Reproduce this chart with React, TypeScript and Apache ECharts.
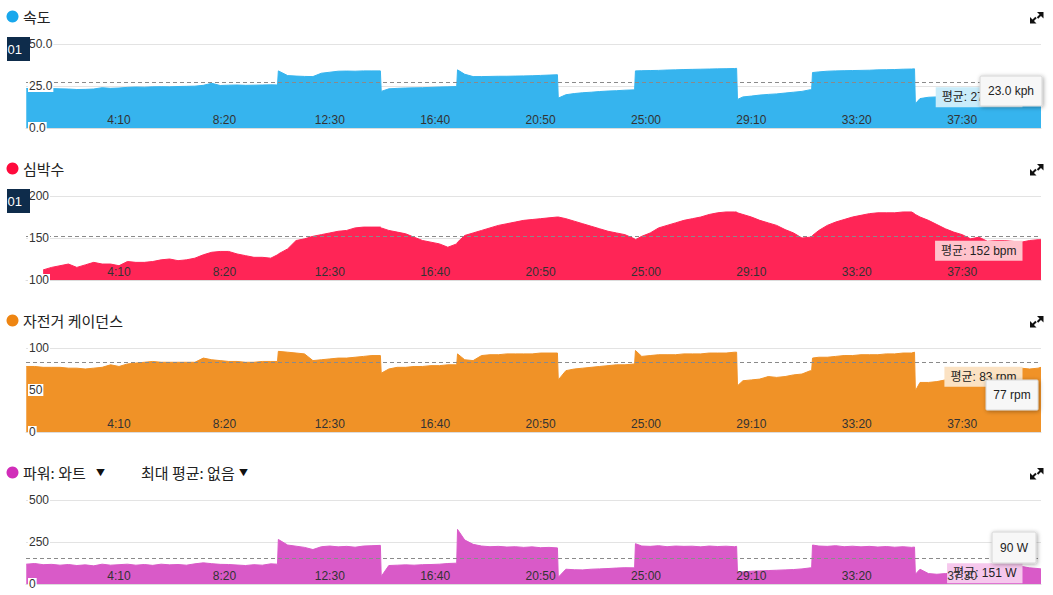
import React, { useEffect, useRef } from "react";
import * as echarts from "echarts";

// ---- data (seconds from start) ----
const TIMES = [
  30, 50, 70, 90, 110, 130, 150, 170, 190, 210, 230, 250, 270, 290, 310, 330, 350, 370, 390, 410, 430, 450, 470, 490, 510, 530, 550, 570, 590, 610,
  626, 628,
  650, 670, 690, 710, 730, 750, 770, 790, 810, 830, 850,
  870, 872,
  890, 910, 930, 950, 970, 990, 1010, 1030,
  1051, 1053,
  1070, 1090, 1110, 1130, 1150, 1170, 1190, 1210, 1230, 1250, 1270,
  1290, 1292,
  1310, 1330, 1350, 1370, 1390, 1410, 1430, 1450,
  1473, 1475,
  1490, 1510, 1530, 1550, 1570, 1590, 1610, 1630, 1650, 1670, 1690, 1710,
  1715, 1717,
  1730, 1750, 1770, 1790, 1810, 1830, 1850, 1870, 1890,
  1893, 1895,
  1910, 1930, 1950, 1970, 1990, 2010, 2030, 2050, 2070, 2090, 2110, 2130,
  2137, 2139,
  2150, 2170, 2190, 2210, 2230, 2250, 2270, 2290, 2310, 2330, 2350, 2370, 2390, 2410, 2430,
  2437,
];

const SPEED = [
  23.5, 23.6, 23.4, 23.5, 23.3, 23.2, 22.9, 23.0, 23.2, 24.0, 23.6, 23.8, 24.2, 24.4, 24.3, 24.5, 24.6, 24.5, 24.7, 24.8, 24.9, 25.4, 26.6, 25.3, 25.5, 25.6, 25.4, 25.5, 25.6, 25.7,
  25.6, 34.0,
  31.2, 30.9, 30.7, 30.6, 32.6, 33.2, 33.8, 33.9, 33.8, 34.0, 34.0,
  34.0, 21.8,
  23.3, 23.6, 23.8, 23.9, 24.0, 24.2, 24.4, 24.5,
  24.7, 34.6,
  32.0, 30.6, 30.6, 30.7, 30.8, 30.8, 30.9, 31.0, 31.1, 31.3, 31.5,
  31.7, 17.8,
  19.8, 20.5, 21.0, 21.3, 21.7, 22.0, 22.2, 22.5,
  22.7, 34.0,
  34.1, 34.2, 34.3, 34.5, 34.6, 34.8, 34.9, 35.0, 35.1, 35.2, 35.3, 35.4,
  35.5, 17.0,
  18.5, 19.0, 19.6, 20.0, 20.3, 20.8, 21.3, 21.8, 22.8,
  23.0, 33.0,
  33.4, 33.8, 34.0, 34.1, 34.2, 34.3, 34.4, 34.6, 34.7, 34.8, 35.0, 35.1,
  35.2, 14.5,
  17.5, 18.3, 18.5, 19.5, 20.0, 20.5, 21.0, 21.5, 22.0, 22.3, 22.5, 22.8, 23.0, 23.3, 23.5,
  23.0,
];

const HEART_RATE = [
  null, null, 112, 115, 117, 119, 115, 118, 121, 119, 119, 117, 122, 121, 121, 122, 124, 125, 123, 124, 126, 130, 133, 134, 134, 131, 129, 127, 127, 126,
  130, 131,
  137, 147, 149, 152, 154, 156, 158, 159, 162, 163, 163,
  163, 162,
  159, 157, 155, 151, 147, 145, 143, 139,
  143, 145,
  153, 156, 159, 162, 165, 167, 169, 171, 172, 173, 174,
  175, 175,
  173, 170, 167, 164, 161, 158, 156, 154,
  149, 148,
  152, 156, 162, 165, 168, 171, 173, 175, 178, 180, 181, 181,
  181, 180,
  178, 175, 171, 168, 165, 160, 156, 150, 151,
  152, 153,
  159, 165, 169, 172, 175, 177, 179, 180, 180, 180, 181, 181,
  179, 178,
  175, 171, 166, 161, 157, 154, 149, 151, 146, 147, 147, 146, 145, 147, 148,
  148,
];

const CADENCE = [
  78, 78, 77, 77, 77, 76, 76, 75, 76, 77, 80, 78, 81, 82, 83, 84, 83, 83, 83, 83, 83, 88, 86, 85, 84, 84, 83, 83, 84, 84,
  84, 96,
  95, 94, 93, 85, 86, 87, 88, 88, 89, 90, 91,
  91, 70,
  75, 77, 77, 78, 78, 79, 79, 80,
  80, 93,
  86, 85, 91, 92, 92, 93, 93, 93, 93, 94, 94,
  94, 62,
  73, 75, 76, 77, 78, 79, 80, 80,
  81, 97,
  90, 91, 92, 92, 92, 93, 93, 93, 94, 94, 94, 95,
  95, 55,
  61, 62, 63, 66, 65, 66, 68, 69, 73,
  73, 88,
  89, 89, 90, 91, 91, 92, 92, 92, 93, 93, 94, 94,
  95, 49,
  59, 59, 60, 62, 64, 65, 67, 68, 70, 72, 73, 74, 76, 75, 76,
  77,
];

const POWER = [
  118, 122, 115, 117, 112, 116, 110, 114, 108, 118, 112, 115, 118, 112, 116, 111, 118, 114, 116, 112, 120, 126, 121, 117, 116, 113, 110, 115, 112, 120,
  118, 265,
  232, 225, 218, 205, 222, 226, 221, 224, 219, 226, 228,
  230, 45,
  110, 112, 114, 112, 115, 116, 118, 122,
  124, 325,
  262, 236, 226, 222, 224, 220, 222, 218, 221, 216, 218,
  215, 40,
  88, 85, 84, 88, 90, 92, 95, 97,
  96, 240,
  226, 224, 228, 222, 226, 224, 225, 221, 226, 223, 225, 222,
  224, 68,
  72, 76, 78, 80, 82, 84, 86, 90, 96,
  98, 232,
  226, 224, 228, 222, 225, 221, 224, 220, 223, 219, 222, 218,
  220, 58,
  88, 62, 58, 62, 66, 70, 72, 76, 78, 80, 84, 86, 105, 96, 92,
  90,
];

const TIME_TICKS = [250, 500, 750, 1000, 1250, 1500, 1750, 2000, 2250];
const TIME_MIN = 29.4;
const TIME_MAX = 2437;

const TITLES = ["속도", "심박수", "자전거 케이던스", "파워: 와트"];
const AVERAGES = [27.0, 152, 83, 151];
const AVERAGE_LABELS = ["평균: 27.0 kph", "평균: 152 bpm", "평균: 83 rpm", "평균: 151 W"];
const CURRENT_LABELS = ["23.0 kph", "", "77 rpm", "90 W"];
const CURSOR_LABEL = ":01";
const Y_MIN = [0, 100, 0, 0];
const Y_MAX = [50, 200, 100, 500];
const Y_INTERVAL = [25, 50, 50, 250];
const Y_DECIMALS = [1, 0, 0, 0];

const SERIES_VALUES = [SPEED, HEART_RATE, CADENCE, POWER];
const FILL_COLORS = ["#36b4ee", "#ff2556", "#f09227", "#d95ac8"];
const DOT_COLORS = ["#18a7ec", "#ff0a3c", "#ee8512", "#d12db9"];
const AVG_BG = ["#c9ecfa", "#ffc3cc", "#fbe2c3", "#f6c8ed"];

// ---- layout ----
const GRID_LEFT = 26;
const GRID_WIDTH = 1015;
const GRID_TOP = 44;
const GRID_HEIGHT = 84;
const STEP = 152;

const LATIN = '"Liberation Sans", Arial, "Noto Sans CJK KR", sans-serif';
const KOREAN = '"Noto Sans CJK KR", "Liberation Sans", sans-serif';

const fmtTime = (v: number) => {
  const s = Math.round(v);
  return `${Math.floor(s / 60)}:${String(s % 60).padStart(2, "0")}`;
};

function buildOption() {
  const grid: any[] = [];
  const xAxis: any[] = [];
  const yAxis: any[] = [];
  const series: any[] = [];
  SERIES_VALUES.forEach((vals, i) => {
    grid.push({ left: GRID_LEFT, width: GRID_WIDTH, top: GRID_TOP + STEP * i, height: GRID_HEIGHT });
    xAxis.push({
      type: "value",
      gridIndex: i,
      min: TIME_MIN,
      max: TIME_MAX,
      z: 10,
      axisLine: { show: true, lineStyle: { color: "#dcdcdc", width: 1 } },
      axisTick: { show: false },
      splitLine: { show: false },
      axisLabel: {
        inside: true,
        margin: 2,
        customValues: TIME_TICKS,
        formatter: (v: number) => fmtTime(v),
        color: "#333",
        fontSize: 12,
        fontFamily: LATIN,
      },
    });
    yAxis.push({
      type: "value",
      gridIndex: i,
      min: Y_MIN[i],
      max: Y_MAX[i],
      interval: Y_INTERVAL[i],
      position: "left",
      z: 0,
      axisLine: { show: false },
      axisTick: { show: false },
      axisLabel: { show: false },
      splitLine: { show: true, lineStyle: { color: "#e3e3e3", width: 1 } },
    });
    yAxis.push({
      type: "value",
      gridIndex: i,
      min: Y_MIN[i],
      max: Y_MAX[i],
      interval: Y_INTERVAL[i],
      position: "left",
      z: 10,
      axisLine: { show: false },
      axisTick: { show: false },
      splitLine: { show: false },
      axisLabel: {
        inside: true,
        margin: 2,
        formatter: (v: number) => v.toFixed(Y_DECIMALS[i]),
        color: "#333",
        fontSize: 12,
        fontFamily: LATIN,
        backgroundColor: "#ffffff",
        padding: [0, 1, 0, 1],
      },
    });
    const data = TIMES.map((t, k) => [t, vals[k]]);
    series.push({
      type: "line",
      xAxisIndex: i,
      yAxisIndex: 2 * i,
      data,
      symbol: "none",
      showSymbol: false,
      z: 1,
      silent: true,
      lineStyle: { width: 0, opacity: 0 },
      markLine: {
        silent: true,
        symbol: "none",
        label: { show: false },
        lineStyle: { color: "#8a8a8a", type: [4, 3], width: 1 },
        data: [{ yAxis: AVERAGES[i] }],
      },
    });
    series.push({
      type: "line",
      xAxisIndex: i,
      yAxisIndex: 2 * i,
      data,
      symbol: "none",
      showSymbol: false,
      z: 2,
      silent: true,
      connectNulls: false,
      lineStyle: { width: 1, color: FILL_COLORS[i] },
      itemStyle: { color: FILL_COLORS[i] },
      areaStyle: { color: FILL_COLORS[i], opacity: 1 },
    });
  });
  return {
    animation: false,
    backgroundColor: "#ffffff",
    grid,
    xAxis,
    yAxis,
    series,
  };
}

function buildGraphics(chart: any) {
  const g: any[] = [];
  SERIES_VALUES.forEach((_, i) => {
    const oy = STEP * i;
    // title
    g.push({ type: "circle", z: 20, shape: { cx: 12.5, cy: 16.5 + oy, r: 6 }, style: { fill: DOT_COLORS[i] } });
    g.push({
      type: "text",
      z: 20,
      x: 23,
      y: 16.5 + oy,
      style: { text: TITLES[i], fill: "#222", fontSize: 15, fontFamily: KOREAN, verticalAlign: "middle", textVerticalAlign: "middle" },
    });
    // expand icon
    const ix = 1030;
    const iy = 12 + oy;
    g.push({ type: "polygon", z: 20, shape: { points: [[ix + 7, iy], [ix + 13.5, iy], [ix + 13.5, iy + 6.5]] }, style: { fill: "#111" } });
    g.push({ type: "line", z: 20, shape: { x1: ix + 11, y1: iy + 2.5, x2: ix + 7.5, y2: iy + 6 }, style: { stroke: "#111", lineWidth: 2 } });
    g.push({ type: "polygon", z: 20, shape: { points: [[ix, iy + 5], [ix, iy + 11.5], [ix + 6.5, iy + 11.5]] }, style: { fill: "#111" } });
    g.push({ type: "line", z: 20, shape: { x1: ix + 2.5, y1: iy + 9, x2: ix + 6, y2: iy + 5.5 }, style: { stroke: "#111", lineWidth: 2 } });

    // average label
    const avgY = chart.convertToPixel({ yAxisIndex: 2 * i }, AVERAGES[i]);
    g.push({
      type: "text",
      z: 5,
      x: 1022.5,
      y: avgY + 4.5,
      style: {
        text: AVERAGE_LABELS[i],
        fill: "#222",
        fontSize: 12,
        fontFamily: LATIN,
        align: "right",
        textAlign: "right",
        verticalAlign: "top",
        textVerticalAlign: "top",
        backgroundColor: AVG_BG[i],
        padding: [4, 6, 4, 6],
      },
    });
  });

  // power header extras
  const py = 16.5 + STEP * 3;
  g.push({ type: "text", z: 20, x: 100.5, y: py, style: { text: "▼", fill: "#111", fontSize: 9, fontFamily: KOREAN, align: "center", textAlign: "center", verticalAlign: "middle", textVerticalAlign: "middle" } });
  g.push({ type: "text", z: 20, x: 141, y: py, style: { text: "최대 평균: 없음", fill: "#222", fontSize: 15, fontFamily: KOREAN, verticalAlign: "middle", textVerticalAlign: "middle" } });
  g.push({ type: "text", z: 20, x: 243.5, y: py, style: { text: "▼", fill: "#111", fontSize: 9, fontFamily: KOREAN, align: "center", textAlign: "center", verticalAlign: "middle", textVerticalAlign: "middle" } });

  // dark cursor boxes (speed, heart rate)
  [0, 1].forEach((i) => {
    const by = 37 + STEP * i;
    g.push({ type: "rect", z: 30, shape: { x: 7, y: by, width: 23, height: 24 }, style: { fill: "#0e2c4b" } });
    g.push({ type: "text", z: 31, x: 22, y: by + 12, style: { text: CURSOR_LABEL, fill: "#ffffff", fontSize: 13, fontFamily: LATIN, align: "right", textAlign: "right", verticalAlign: "middle", textVerticalAlign: "middle" } });
  });

  // hover tooltips
  const tips = [
    { i: 0, x: 980, y: 76, w: 62, h: 30 },
    { i: 2, x: 986, y: 380, w: 52, h: 30 },
    { i: 3, x: 992, y: 532, w: 44, h: 31 },
  ];
  tips.forEach((t) => {
    g.push({
      type: "rect",
      z: 40,
      shape: { x: t.x, y: t.y, width: t.w, height: t.h, r: 1 },
      style: { fill: "#f7f7f7", stroke: "#d6d6d6", lineWidth: 1, shadowBlur: 4, shadowColor: "rgba(0,0,0,0.35)", shadowOffsetX: 1, shadowOffsetY: 1 },
    });
    g.push({
      type: "text",
      z: 41,
      x: t.x + t.w / 2,
      y: t.y + t.h / 2,
      style: { text: CURRENT_LABELS[t.i], fill: "#222", fontSize: 12, fontFamily: LATIN, align: "center", textAlign: "center", verticalAlign: "middle", textVerticalAlign: "middle" },
    });
  });
  return g;
}

export default function App() {
  const ref = useRef<HTMLDivElement | null>(null);
  useEffect(() => {
    if (!ref.current) return;
    const chart = echarts.init(ref.current, undefined, { renderer: "svg" });
    chart.setOption(buildOption() as any);
    chart.setOption({ graphic: { elements: buildGraphics(chart) } } as any);
    return () => {
      chart.dispose();
    };
  }, []);
  return (
    <div
      ref={ref}
      style={{ position: "fixed", left: 0, top: 0, width: 1053, height: 595, background: "#fff" }}
    />
  );
}
